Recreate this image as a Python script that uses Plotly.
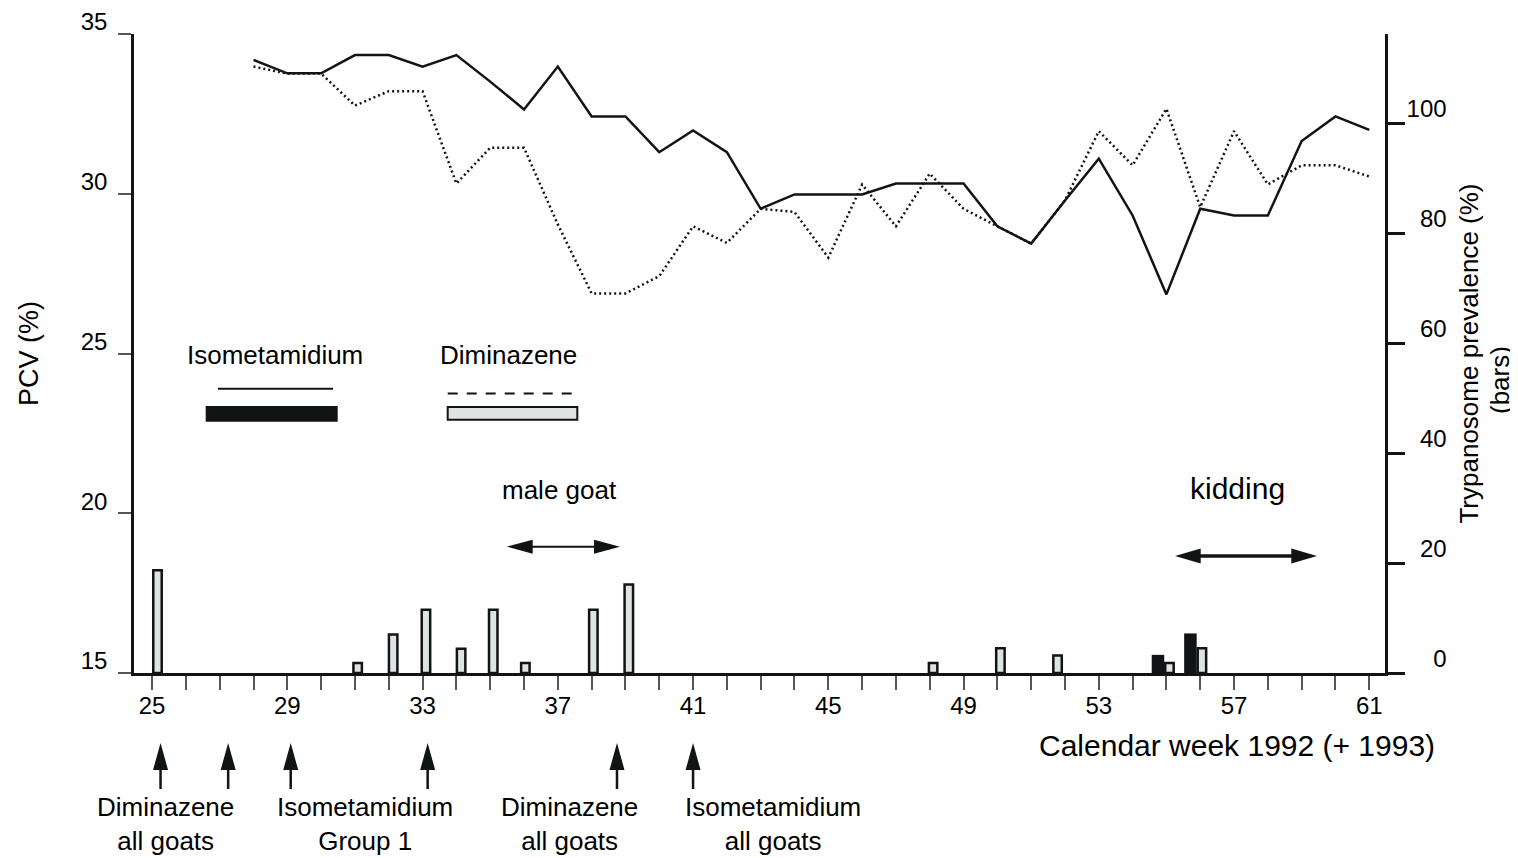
import plotly.graph_objects as go

# ---------------- data ----------------
line_weeks = list(range(28, 62))
pcv_isometamidium = [34.19, 33.77, 33.77, 34.34, 34.34, 33.98, 34.34, 33.51, 32.64, 33.98,
                     32.42, 32.42, 31.30, 31.98, 31.30, 29.53, 29.98, 29.98, 29.98, 30.32,
                     30.32, 30.32, 28.98, 28.44, 29.79, 31.10, 29.32, 26.85, 29.53, 29.32,
                     29.32, 31.65, 32.42, 32.00]
pcv_diminazene = [33.98, 33.76, 33.76, 32.76, 33.21, 33.21, 30.32, 31.44, 31.44, 29.04,
                  26.88, 26.88, 27.42, 28.98, 28.46, 29.53, 29.43, 28.00, 30.29, 28.98,
                  30.63, 29.53, 28.98, 28.44, 29.79, 31.96, 30.89, 32.66, 29.58, 31.96,
                  30.29, 30.89, 30.89, 30.54]

prev_dim_weeks = [25.16, 31.08, 32.13, 33.10, 34.14, 35.09, 36.04, 38.05, 39.10,
                  48.10, 50.09, 51.78, 55.09, 56.05]
prev_dim_values = [18.7, 1.8, 7.0, 11.5, 4.4, 11.5, 1.8, 11.5, 16.1,
                   1.8, 4.5, 3.2, 1.8, 4.5]
prev_iso_weeks = [54.75, 55.71]
prev_iso_values = [3.3, 7.2]

treatment_weeks = [25.25, 27.25, 29.1, 33.15, 38.75, 41.0]
treatment_labels = ["Diminazene<br>all goats", "Isometamidium<br>Group 1",
                    "Diminazene<br>all goats", "Isometamidium<br>all goats"]

x_ticks = list(range(25, 62, 4))
y_ticks = [15, 20, 25, 30, 35]
y2_ticks = [0, 20, 40, 60, 80, 100]

# ---------------- layout geometry ----------------
# the page body has an 8px margin, so the figure is drawn 8px in from the corner
OFF = 8
W, H = 1510, 850
ML, MR, MT, MB = 126, 133, 26, 185
PW, PH = W - ML - MR, H - MT - MB
XR = [24.465, 61.465]
PX_PER_WEEK = PW / (XR[1] - XR[0])
FONT = "Liberation Sans, Arial, Helvetica, sans-serif"
LIGHT = "#dfe3e4"
DARK = "#111414"


def px_x(p):  # screen pixel -> paper x
    return (p - OFF - ML) / PW


def px_y(p):  # screen pixel -> paper y
    return (OFF + MT + PH - p) / PH


fig = go.Figure()

fig.add_trace(go.Scatter(x=line_weeks, y=pcv_diminazene, mode="lines",
                         line=dict(color=DARK, width=2.5, dash="2px,3px"),
                         showlegend=False))
fig.add_trace(go.Scatter(x=line_weeks, y=pcv_isometamidium, mode="lines",
                         line=dict(color=DARK, width=2.5),
                         showlegend=False))

fig.add_trace(go.Bar(x=prev_dim_weeks, y=prev_dim_values, width=0.25, yaxis="y2",
                     marker=dict(color=LIGHT, line=dict(color=DARK, width=2.5)),
                     showlegend=False))
fig.add_trace(go.Bar(x=prev_iso_weeks, y=prev_iso_values, width=0.37, yaxis="y2",
                     marker=dict(color=DARK, line=dict(width=0)),
                     showlegend=False))

shapes = []
annotations = []

# legend keys
shapes.append(dict(type="line", xref="paper", yref="paper",
                   x0=px_x(218), x1=px_x(333), y0=px_y(388.7), y1=px_y(388.7),
                   line=dict(color=DARK, width=2)))
shapes.append(dict(type="rect", xref="paper", yref="paper",
                   x0=px_x(205.7), x1=px_x(337.7), y0=px_y(421.7), y1=px_y(406),
                   fillcolor=DARK, line=dict(width=0)))
shapes.append(dict(type="line", xref="paper", yref="paper",
                   x0=px_x(447.7), x1=px_x(580), y0=px_y(393.5), y1=px_y(393.5),
                   line=dict(color=DARK, width=2, dash="10px,9px")))
shapes.append(dict(type="rect", xref="paper", yref="paper",
                   x0=px_x(447.7), x1=px_x(577.3), y0=px_y(419.7), y1=px_y(407),
                   fillcolor=LIGHT, line=dict(color=DARK, width=2)))


def text(px, py, s, size=26, xanchor="center", angle=0):
    annotations.append(dict(xref="paper", yref="paper", x=px_x(px), y=px_y(py),
                            text=s, showarrow=False, xanchor=xanchor, yanchor="middle",
                            textangle=angle,
                            font=dict(family=FONT, size=size, color="black")))


text(275, 355, "Isometamidium")
text(508.5, 355, "Diminazene")
text(559, 490, "male goat")
text(1237.5, 488, "kidding", size=30)
text(1437, 745, "Calendar week 1992 (+ 1993)", size=30, xanchor="right")
text(1500, 380, "(bars)", angle=-90)
for cx, lab in zip([165, 365, 569, 773], treatment_labels):
    text(cx, 824, lab)


def double_arrow(x0p, x1p, yp, head_len, half_h, lw):
    shapes.append(dict(type="line", xref="paper", yref="paper",
                       x0=px_x(x0p + head_len * 0.8), x1=px_x(x1p - head_len * 0.8),
                       y0=px_y(yp), y1=px_y(yp), line=dict(color=DARK, width=lw)))
    for tip, base in [(x0p, x0p + head_len), (x1p, x1p - head_len)]:
        path = (f"M{px_x(tip)},{px_y(yp)} L{px_x(base)},{px_y(yp - half_h)} "
                f"L{px_x(base)},{px_y(yp + half_h)} Z")
        shapes.append(dict(type="path", xref="paper", yref="paper", path=path,
                           fillcolor=DARK, line=dict(width=0)))


double_arrow(506.7, 620, 546.7, 26, 7, 2)
double_arrow(1175, 1317, 556, 25.7, 7.5, 3.5)

# treatment arrows below the axis
dx = 7.5 / PX_PER_WEEK
for w in treatment_weeks:
    shapes.append(dict(type="line", xref="x", yref="paper", x0=w, x1=w,
                       y0=px_y(789), y1=px_y(766), line=dict(color=DARK, width=2.5)))
    path = (f"M{w - dx},{px_y(770)} L{w + dx},{px_y(770)} L{w},{px_y(743)} Z")
    shapes.append(dict(type="path", xref="x", yref="paper", path=path,
                       fillcolor=DARK, line=dict(width=0)))

fs = "\u2007"
y2_text = [fs * (3 - len(str(v))) + str(v) for v in y2_ticks]

fig.update_layout(
    width=W, height=H,
    margin=dict(l=ML, r=MR, t=MT, b=MB, pad=0, autoexpand=False),
    paper_bgcolor="white", plot_bgcolor="white",
    font=dict(family=FONT, size=24, color="black"),
    barmode="overlay",
    showlegend=False,
    xaxis=dict(range=XR, tickvals=x_ticks, ticks="outside", ticklen=14,
               tickwidth=1.5, tickcolor="#555", showline=True, linecolor=DARK,
               linewidth=2.5, showgrid=False, zeroline=False, automargin=False,
               tickfont=dict(size=24), ticklabelstandoff=-5,
               minor=dict(dtick=1, tick0=25, ticks="outside", ticklen=14,
                          tickwidth=1.5, tickcolor="#555", showgrid=False)),
    yaxis=dict(range=[15, 35], tickvals=y_ticks, ticks="outside", ticklen=13,
               tickwidth=1.5, tickcolor="#555", showline=True, linecolor=DARK,
               linewidth=2.5, showgrid=False, zeroline=False, automargin=False,
               tickfont=dict(size=24), ticklabelshift=-12, ticklabelstandoff=6,
               title=dict(text="PCV (%)", font=dict(size=27), standoff=35)),
    yaxis2=dict(range=[0, 116.2], tickvals=y2_ticks, ticktext=y2_text,
                overlaying="y", side="right", anchor="x", automargin=False,
                ticks="outside", ticklen=17, tickwidth=2.5, tickcolor=DARK,
                showline=True, linecolor=DARK, linewidth=2.5, showgrid=False,
                zeroline=False, tickfont=dict(size=24), ticklabelshift=-14,
                ticklabelstandoff=-3,
                title=dict(text="Trypanosome prevalence (%)",
                           font=dict(size=26), standoff=15)),
    shapes=shapes,
    annotations=annotations,
)

fig.write_html("out.html")
